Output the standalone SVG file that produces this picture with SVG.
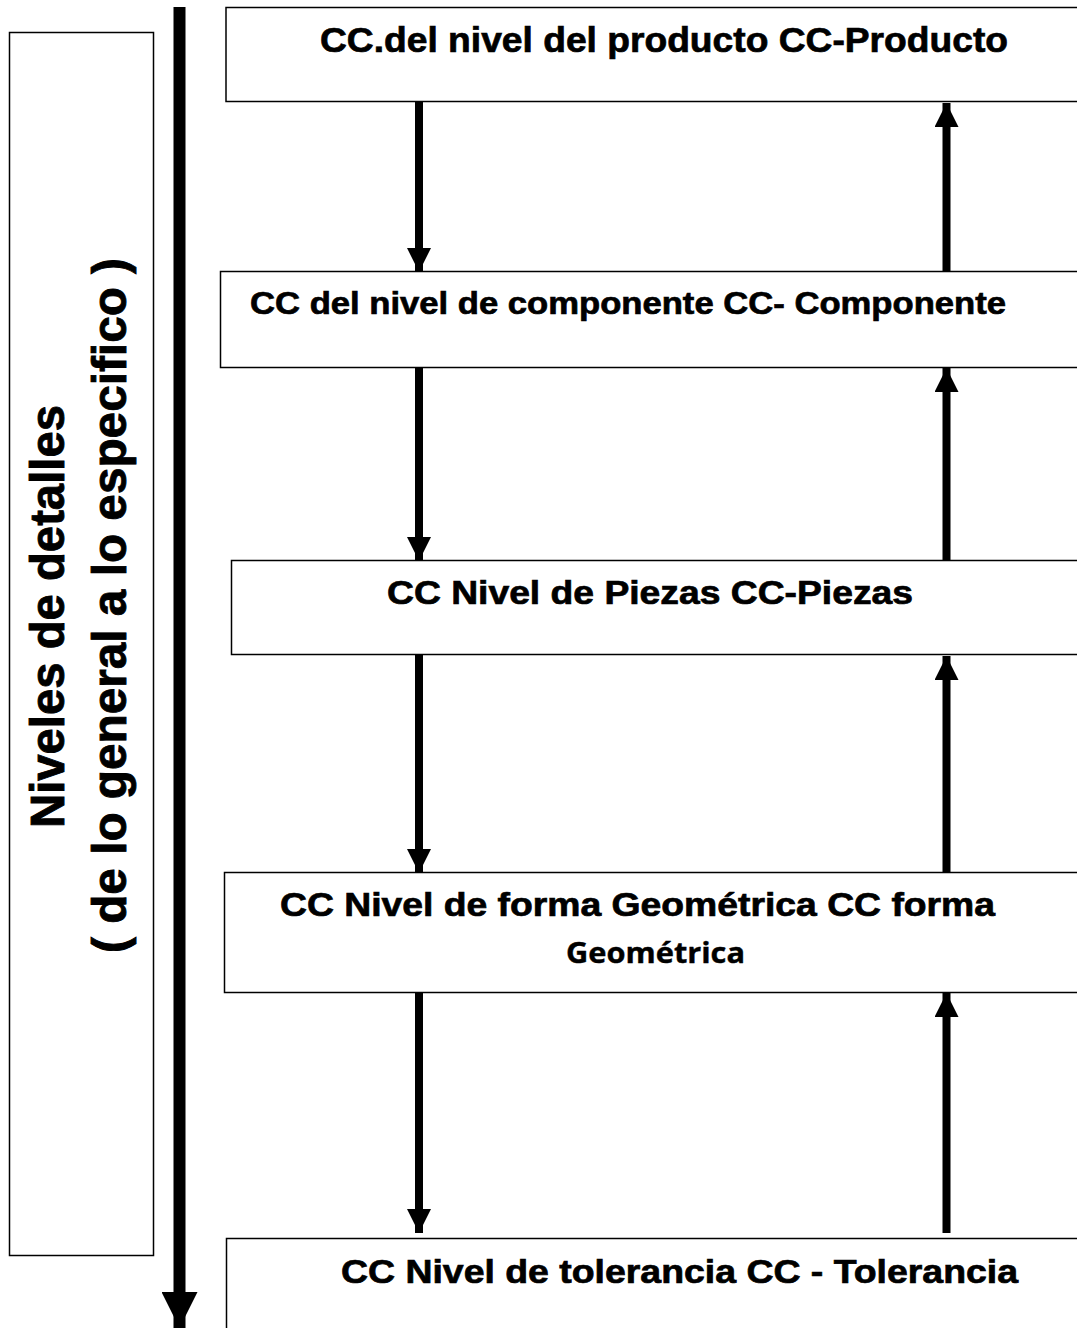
<svg xmlns="http://www.w3.org/2000/svg" width="1077" height="1328" viewBox="0 0 1077 1328">
  <style>
    .box { fill: #ffffff; stroke: #000000; stroke-width: 1.5; }
    .lbl { font-family: "Liberation Sans", Arial, sans-serif; font-weight: bold; font-size: 33px; fill: #000000; stroke: #000000; stroke-width: 0.7; }
    .sub { font-family: "Open Sans", "Liberation Sans", sans-serif; font-weight: bold; font-size: 28px; fill: #000000; stroke: #000000; stroke-width: 0.4; }
    .side { font-family: "Liberation Sans", Arial, sans-serif; font-weight: bold; font-size: 48px; fill: #000000; stroke: #000000; stroke-width: 0.9; }
    .shaft { stroke: #000000; stroke-width: 8; fill: none; }
  </style>
  <defs>
    <marker id="head" viewBox="0 0 24 24" refX="24" refY="12" markerUnits="userSpaceOnUse" markerWidth="24" markerHeight="24" orient="auto">
      <path d="M0,0 L24,12 L0,24 Z" fill="#000000"/>
    </marker>
    <marker id="bighead" viewBox="0 0 36 36" refX="36" refY="18" markerUnits="userSpaceOnUse" markerWidth="36" markerHeight="36" orient="auto">
      <path d="M0,0 L36,18 L0,36 Z" fill="#000000"/>
    </marker>
  </defs>

  <rect width="1077" height="1328" fill="#ffffff"/>

  <!-- side panel: level of detail -->
  <g id="side-panel">
    <rect class="box" x="9.5" y="32.5" width="144" height="1223"/>
    <text class="side" transform="translate(64,828) rotate(-90)" textLength="423" lengthAdjust="spacingAndGlyphs">Niveles de detalles</text>
    <text class="side" transform="translate(126,953) rotate(-90)" textLength="695" lengthAdjust="spacingAndGlyphs">( de lo general a lo especifico )</text>
  </g>

  <!-- levels -->
  <g id="level-producto">
    <rect class="box" x="226" y="7.5" width="855" height="94"/>
    <text class="lbl" style="font-size:35px" x="320" y="52" textLength="688" lengthAdjust="spacingAndGlyphs">CC.del nivel del producto CC-Producto</text>
  </g>
  <g id="level-componente">
    <rect class="box" x="220.5" y="271.5" width="860" height="96"/>
    <text class="lbl" style="font-size:32px" x="250" y="314" textLength="756" lengthAdjust="spacingAndGlyphs">CC del nivel de componente CC- Componente</text>
  </g>
  <g id="level-piezas">
    <rect class="box" x="231.5" y="560.5" width="850" height="94"/>
    <text class="lbl" x="387" y="604" textLength="526" lengthAdjust="spacingAndGlyphs">CC Nivel de Piezas CC-Piezas</text>
  </g>
  <g id="level-forma">
    <rect class="box" x="224.5" y="872.5" width="856" height="120"/>
    <text class="lbl" x="280" y="916" textLength="715" lengthAdjust="spacingAndGlyphs">CC Nivel de forma Geométrica CC forma</text>
    <text class="sub" x="566" y="963" textLength="179" lengthAdjust="spacingAndGlyphs">Geométrica</text>
  </g>
  <g id="level-tolerancia">
    <rect class="box" x="226.5" y="1238.5" width="855" height="100"/>
    <text class="lbl" x="341" y="1283" textLength="677" lengthAdjust="spacingAndGlyphs">CC Nivel de tolerancia CC - Tolerancia</text>
  </g>

  <!-- connectors -->
  <g id="connectors">
    <line class="shaft" style="stroke-width:12" x1="179.5" y1="7" x2="179.5" y2="1328" marker-end="url(#bighead)"/>
    <line class="shaft" x1="419" y1="102" x2="419" y2="272" marker-end="url(#head)"/>
    <line class="shaft" x1="419" y1="368" x2="419" y2="561" marker-end="url(#head)"/>
    <line class="shaft" x1="419" y1="655" x2="419" y2="873" marker-end="url(#head)"/>
    <line class="shaft" x1="419" y1="993" x2="419" y2="1233" marker-end="url(#head)"/>
    <line class="shaft" x1="946.5" y1="271" x2="946.5" y2="103" marker-end="url(#head)"/>
    <line class="shaft" x1="946.5" y1="560" x2="946.5" y2="368" marker-end="url(#head)"/>
    <line class="shaft" x1="946.5" y1="872" x2="946.5" y2="656" marker-end="url(#head)"/>
    <line class="shaft" x1="946.5" y1="1233" x2="946.5" y2="993" marker-end="url(#head)"/>
  </g>
</svg>
